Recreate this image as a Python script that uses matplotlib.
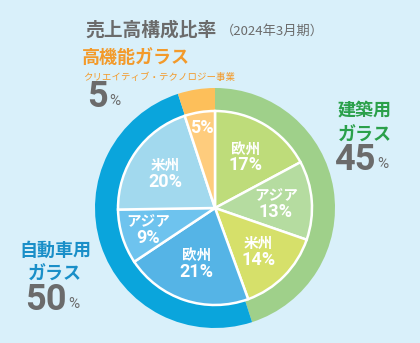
import matplotlib
matplotlib.use("Agg")
import matplotlib.pyplot as plt
import numpy as np

# data
outer_labels = ['建築用ガラス', '自動車用ガラス', '高機能ガラス']
outer_values = [45, 50, 5]
outer_colors = ['#9fd08a', '#0aa5dc', '#fdbf5a']

inner_labels = ['欧州', 'アジア', '米州', '欧州', 'アジア', '米州', '']
inner_values = [17, 13, 14, 21, 9, 20, 5]
inner_colors = ['#bedc7a', '#b5dca0', '#d6e06a', '#55b4e6', '#6ec3ee', '#a2d9ee', '#fecc7d']
label_r = [0.62, 0.63, 0.63, 0.60, 0.72, 0.63, 0.84]

bg = '#d9f0fa'
gray = '#6b6b6b'
jp = ['Noto Sans CJK JP', 'DejaVu Sans']
num = ['Roboto', 'DejaVu Sans']

W, H = 420, 343
fig = plt.figure(figsize=(4.2, 3.43), dpi=100, facecolor=bg)
ax = fig.add_axes([0, 0, 1, 1])

def Y(y):
    return H - y

cx, cy = 215, Y(208)
R, r = 120, 97

ax.pie(outer_values, colors=outer_colors, startangle=90, counterclock=False,
       center=(cx, cy), radius=R, frame=True,
       wedgeprops=dict(width=R - r, linewidth=0))
wedges, _ = ax.pie(inner_values, colors=inner_colors, startangle=90, counterclock=False,
                   center=(cx, cy), radius=r, frame=True,
                   wedgeprops=dict(edgecolor='white', linewidth=1.8))
ax.set_xlim(0, W)
ax.set_ylim(0, H)
ax.set_aspect('equal')
ax.axis('off')

for w, lab, v, f in zip(wedges, inner_labels, inner_values, label_r):
    ang = np.deg2rad((w.theta1 + w.theta2) / 2)
    x = cx + f * r * np.cos(ang)
    y = cy + f * r * np.sin(ang)
    if lab:
        ax.text(x, y + 8, lab, ha='center', va='center', color='white',
                fontsize=10.5, fontweight='bold', family=jp)
        ax.text(x, y - 9, f'{v}%', ha='center', va='center', color='white',
                fontsize=13, fontweight='bold', family=num)
    else:
        ax.text(x, y, f'{v}%', ha='center', va='center', color='white',
                fontsize=13, fontweight='bold', family=num)

# title
ax.text(85, Y(30), '売上高構成比率', ha='left', va='center', color=gray,
        fontsize=13.5, fontweight='bold', family=jp)
ax.text(221, Y(31), '（2024年3月期）', ha='left', va='center', color=gray,
        fontsize=9.5, family=jp)

def pct(xc, y, val, color_num=gray):
    ax.text(xc, Y(y), str(val), ha='right', va='center', color=color_num,
            fontsize=26, fontweight='bold', family=num)
    ax.text(xc + 1, Y(y + 4), '%', ha='left', va='center', color=color_num,
            fontsize=11, family=num)

# high-performance glass
ax.text(82, Y(58), '高機能ガラス', ha='left', va='center', color='#f39a2a',
        fontsize=13, fontweight='bold', family=jp)
ax.text(83, Y(77), 'クリエイティブ・テクノロジー事業', ha='left', va='center',
        color='#f39a2a', fontsize=6.8, family=jp)
pct(108, 97, outer_values[2])

# architectural
ax.text(365, Y(110), '建築用', ha='center', va='center', color='#2aa04a',
        fontsize=13, fontweight='bold', family=jp)
ax.text(365, Y(135), 'ガラス', ha='center', va='center', color='#2aa04a',
        fontsize=13, fontweight='bold', family=jp)
pct(376, 160, outer_values[0])

# automotive
ax.text(55, Y(250), '自動車用', ha='center', va='center', color='#1a8fc8',
        fontsize=13, fontweight='bold', family=jp)
ax.text(55, Y(274), 'ガラス', ha='center', va='center', color='#1a8fc8',
        fontsize=13, fontweight='bold', family=jp)
pct(67, 300, outer_values[1])

fig.savefig('out.png', dpi=100, facecolor=bg)
